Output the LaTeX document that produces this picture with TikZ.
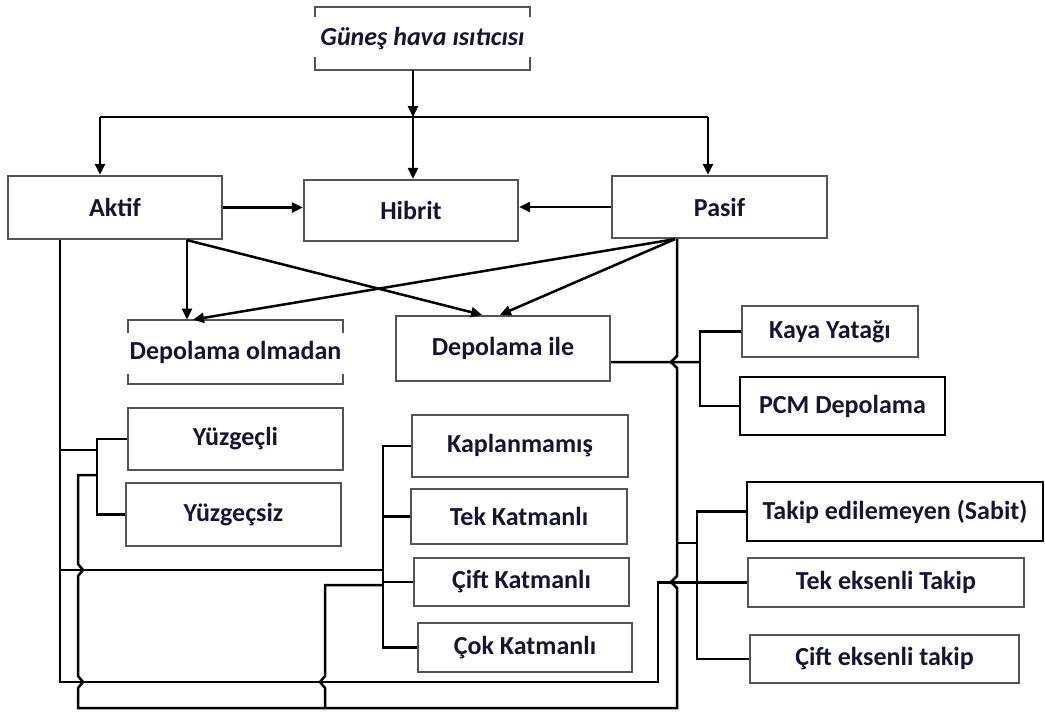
\documentclass[tikz,border=0pt]{standalone}
\usepackage{fontspec}
\setmainfont{Carlito}
\usetikzlibrary{arrows.meta,positioning}

\begin{document}
\begin{tikzpicture}[x=0.02cm,y=-0.02cm,
    kutu/.style={draw=r84g84b84,line width=0.045cm,inner sep=0pt,
      text=r20g20b56,font=\bfseries\fontsize{14.8}{17}\selectfont},
    kalin/.style={kutu,draw=black,line width=0.055cm},
    acik/.style={inner sep=0pt,text=r20g20b56,
      font=\bfseries\fontsize{14.8}{17}\selectfont},
    kose/.style={draw=r84g84b84,line width=0.045cm},
    hat/.style={line width=0.05cm},
    ok/.style={hat,-{Triangle[length=0.22cm,width=0.2cm]}}]
                    \useasboundingbox (0,0) rectangle (1045,717);%

                    % Changing color 84 84 84 and 20 20 56
                    \definecolor{r84g84b84}{rgb}{0.330000,0.330000,0.330000}%
                    \definecolor{r20g20b56}{rgb}{0.080000,0.080000,0.220000}%

                    % Marking boxes
                    \node [acik,minimum width=4.30cm,minimum height=1.26cm] (gunes) at (422.5,38.5) {\itshape Güneş hava ısıtıcısı};%
                    \node [kutu,minimum width=4.28cm,minimum height=1.26cm] (aktif) at (115,207.5) {Aktif};%
                    \node [kutu,minimum width=4.28cm,minimum height=1.22cm] (hibrit) at (411,210.5) {Hibrit};%
                    \node [kutu,minimum width=4.30cm,minimum height=1.24cm] (pasif) at (719.5,207) {Pasif};%
                    \node [acik,minimum width=4.30cm,minimum height=1.28cm] (olmadan) at (235.5,352) {Depolama olmadan};%
                    \node [kutu,minimum width=4.28cm,minimum height=1.30cm] (ile) at (503,348.5) {Depolama ile};%
                    \node [kutu,minimum width=3.52cm,minimum height=1.02cm] (kaya) at (830,331.5) {Kaya Yatağı};%
                    \node [kalin,minimum width=4.10cm,minimum height=1.16cm] (pcm) at (842.5,406) {PCM Depolama};%
                    \node [kutu,minimum width=4.30cm,minimum height=1.24cm] (yuzgecli) at (235.5,439) {Yüzgeçli};%
                    \node [kutu,minimum width=4.30cm,minimum height=1.26cm] (yuzgecsiz) at (233.5,514.5) {Yüzgeçsiz};%
                    \node [kutu,minimum width=4.32cm,minimum height=1.24cm] (kaplanmamis) at (520,446) {Kaplanmamış};%
                    \node [kutu,minimum width=4.32cm,minimum height=1.10cm] (tekkat) at (519,516.5) {Tek Katmanlı};%
                    \node [kutu,minimum width=4.30cm,minimum height=0.96cm] (ciftkat) at (521.5,582) {Çift Katmanlı};%
                    \node [kutu,minimum width=4.28cm,minimum height=0.98cm] (cokkat) at (525,647.5) {Çok Katmanlı};%
                    \node [kalin,minimum width=5.92cm,minimum height=1.18cm] (sabit) at (895,511.5) {Takip edilemeyen (Sabit)};%
                    \node [kutu,minimum width=5.52cm,minimum height=0.98cm] (tekeksen) at (886,582.5) {Tek eksenli Takip};%
                    \node [kutu,minimum width=5.38cm,minimum height=0.96cm] (cifteksen) at (884.5,659) {Çift eksenli takip};%

                    % Drawing open corners of gunes and olmadan
                    \draw [kose] ([yshift=-0.20cm]gunes.north west) -- (gunes.north west) -- (gunes.north east) -- ([yshift=-0.20cm]gunes.north east);%
                    \draw [kose] ([yshift=0.26cm]gunes.south west) -- (gunes.south west) -- (gunes.south east) -- ([yshift=0.26cm]gunes.south east);%
                    \draw [kose] ([yshift=-0.26cm]olmadan.north west) -- (olmadan.north west) -- (olmadan.north east) -- ([yshift=-0.26cm]olmadan.north east);%
                    \draw [kose] ([yshift=0.20cm]olmadan.south west) -- (olmadan.south west) -- (olmadan.south east) -- ([yshift=0.20cm]olmadan.south east);%

                    % Drawing bus gunes aktif hibrit pasif
                    \coordinate (bus) at (413,117);%
                    \coordinate (busL) at (100,117);%
                    \coordinate (busR) at (708,117);%
                    \draw [ok] (gunes.south -| bus) -- (bus);%
                    \draw [hat] (busL) -- (busR);%
                    \draw [ok] (busL) -- (busL |- aktif.north);%
                    \draw [ok] (bus) -- (bus |- hibrit.north);%
                    \draw [ok] (busR) -- (busR |- pasif.north);%

                    % Drawing arrow aktif hibrit, pasif hibrit
                    \draw [ok] (aktif.east) -- (aktif.east -| hibrit.west);%
                    \draw [ok] (pasif.west) -- (pasif.west -| hibrit.east);%

                    % Drawing arrows to olmadan and ile
                    \coordinate (aktA) at (aktif.south -| 187,0);%
                    \coordinate (pasA) at (pasif.south -| 675,0);%
                    \draw [ok] (aktA) -- (aktA |- olmadan.north);%
                    \draw [ok] (aktA) -- (ile.north -| 482,0);%
                    \draw [ok] (pasA) -- (olmadan.north -| 193,0);%
                    \draw [ok] (pasA) -- (ile.north -| 500,0);%

                    % Drawing bracket ile kaya pcm
                    \coordinate (kayaJ) at (700,362);%
                    \draw [hat] ([yshift=-0.27cm]ile.east) -- (kayaJ);%
                    \draw [hat] (kaya.west) -| (kayaJ) |- (pcm.west);%

                    % Drawing brackets yuzgec, katman, takip
                    \coordinate (yuzJ) at (97,475);%
                    \coordinate (katJ) at (383,585);%
                    \coordinate (takJ) at (697,543);%
                    \draw [hat] (yuzgecli.west) -| (yuzJ) |- (yuzgecsiz.west);%
                    \draw [hat] (kaplanmamis.west) -| (katJ) |- (cokkat.west);%
                    \draw [hat] (tekkat.west) -- (tekkat.west -| katJ);%
                    \draw [hat] (ciftkat.west) -- (ciftkat.west -| katJ);%
                    \draw [hat] (sabit.west) -| (takJ) |- (cifteksen.west);%

                    % Drawing line pasif (with hops)
                    \draw [hat] (pasif.south -| 677,0) -- (677,356) -- (671,362) -- (677,368) -- (677,576) -- (671,582) -- (677,588) -- (677,708)
                      -- (78,708) -- (78,688) -- (83,682) -- (78,676) -- (78,576) -- (83,570) -- (78,564) -- (78,475) -- (yuzJ);%
                    \draw [hat] (677,543) -- (takJ);%
                    \draw [hat] (325,708) -- (325,688) -- (320,682) -- (325,676) -- (325,585) -- (katJ);%

                    % Drawing line aktif
                    \draw [hat] (aktif.south -| 60,0) -- (60,682) -- (658,682) -- (tekeksen.west -| 658,0) -- (tekeksen.west);%
                    \draw [hat] (60,450) -- (yuzJ |- 0,450);%
                    \draw [hat] (60,570) -- (katJ |- 0,570);%
\end{tikzpicture}
\end{document}
